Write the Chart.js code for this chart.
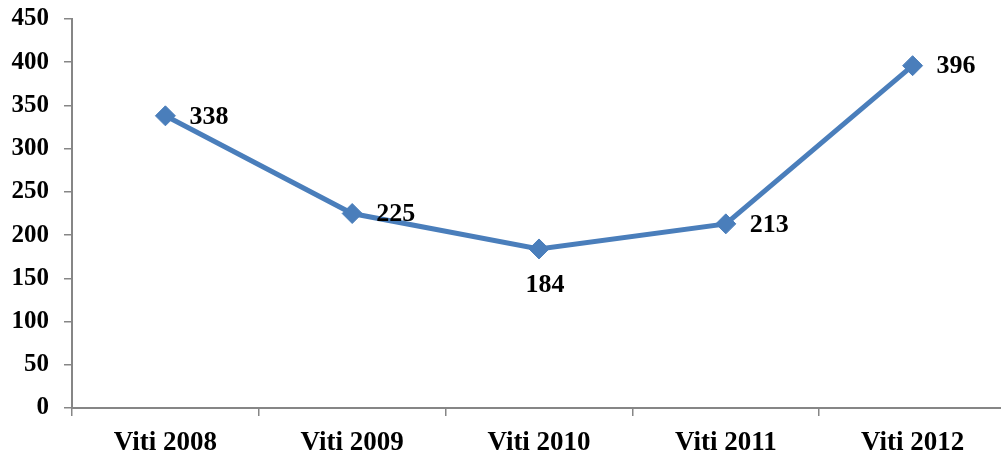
<!DOCTYPE html>
<html>
<head>
<meta charset="utf-8">
<script src="https://cdn.jsdelivr.net/npm/chart.js@4/dist/chart.umd.min.js"></script>
<style>
html,body{margin:0;padding:0;background:#fff;overflow:hidden;width:1001px;height:452px;}
#wrap{width:1017px;height:452px;position:relative;}
</style>
</head>
<body>
<div id="wrap"><canvas id="c"></canvas></div>
<script>
const categories = ['Viti 2008', 'Viti 2009', 'Viti 2010', 'Viti 2011', 'Viti 2012'];
const values = [338, 225, 184, 213, 396];
const labelPlacement = ['right', 'right', 'below', 'right', 'right'];
const yTicks = [0, 50, 100, 150, 200, 250, 300, 350, 400, 450];

const FONT = '"Liberation Serif", "Times New Roman", serif';
const AXIS = '#868686';
const LINE = '#4A7EBB';

const dataLabels = {
  id: 'dataLabels',
  afterDatasetsDraw(chart) {
    const ctx = chart.ctx;
    const meta = chart.getDatasetMeta(0);
    ctx.save();
    ctx.font = 'bold 26px ' + FONT;
    ctx.fillStyle = '#000';
    meta.data.forEach((pt, i) => {
      const txt = String(values[i]);
      if (labelPlacement[i] === 'below') {
        ctx.textAlign = 'center';
        ctx.textBaseline = 'middle';
        ctx.fillText(txt, pt.x + 6, pt.y + 36);
      } else {
        ctx.textAlign = 'left';
        ctx.textBaseline = 'middle';
        ctx.fillText(txt, pt.x + 24, pt.y + 1);
      }
    });
    ctx.restore();
  }
};

new Chart(document.getElementById('c'), {
  type: 'line',
  data: {
    labels: categories,
    datasets: [{
      data: values,
      borderColor: LINE,
      backgroundColor: LINE,
      borderWidth: 5,
      pointStyle: 'rectRot',
      pointRadius: 10,
      pointHoverRadius: 10,
      pointBackgroundColor: LINE,
      pointBorderColor: LINE,
      pointBorderWidth: 1,
      tension: 0,
      fill: false
    }]
  },
  options: {
    responsive: true,
    maintainAspectRatio: false,
    animation: false,
    events: [],
    layout: { padding: { top: 19, right: 0, bottom: 0, left: 0 } },
    plugins: { legend: { display: false }, tooltip: { enabled: false } },
    scales: {
      x: {
        type: 'category',
        offset: true,
        grid: { display: true, drawOnChartArea: false, drawTicks: true, tickLength: 8, color: AXIS, lineWidth: 1.5, offset: true },
        border: { display: true, color: AXIS, width: 2 },
        ticks: { color: '#000', font: { family: FONT, size: 27, weight: 'bold' }, padding: 11, maxRotation: 0, autoSkip: false },
        afterFit(scale) {
          scale.height = 44;
          scale.paddingLeft = 0; scale.paddingRight = 0;
          scale.paddingTop = 0; scale.paddingBottom = 0;
        }
      },
      y: {
        min: 0,
        max: 450,
        afterBuildTicks(scale) { scale.ticks = yTicks.map(v => ({ value: v })); },
        grid: { display: true, drawOnChartArea: false, drawTicks: true, tickLength: 8, color: AXIS, lineWidth: 1.5 },
        border: { display: true, color: AXIS, width: 2 },
        ticks: { color: '#000', font: { family: FONT, size: 25, weight: 'bold' }, padding: 15 },
        afterFit(scale) {
          scale.width = 72;
          scale.paddingTop = 0; scale.paddingBottom = 0;
          scale.paddingLeft = 0; scale.paddingRight = 0;
        }
      }
    }
  },
  plugins: [dataLabels]
});
</script>
</body>
</html>
